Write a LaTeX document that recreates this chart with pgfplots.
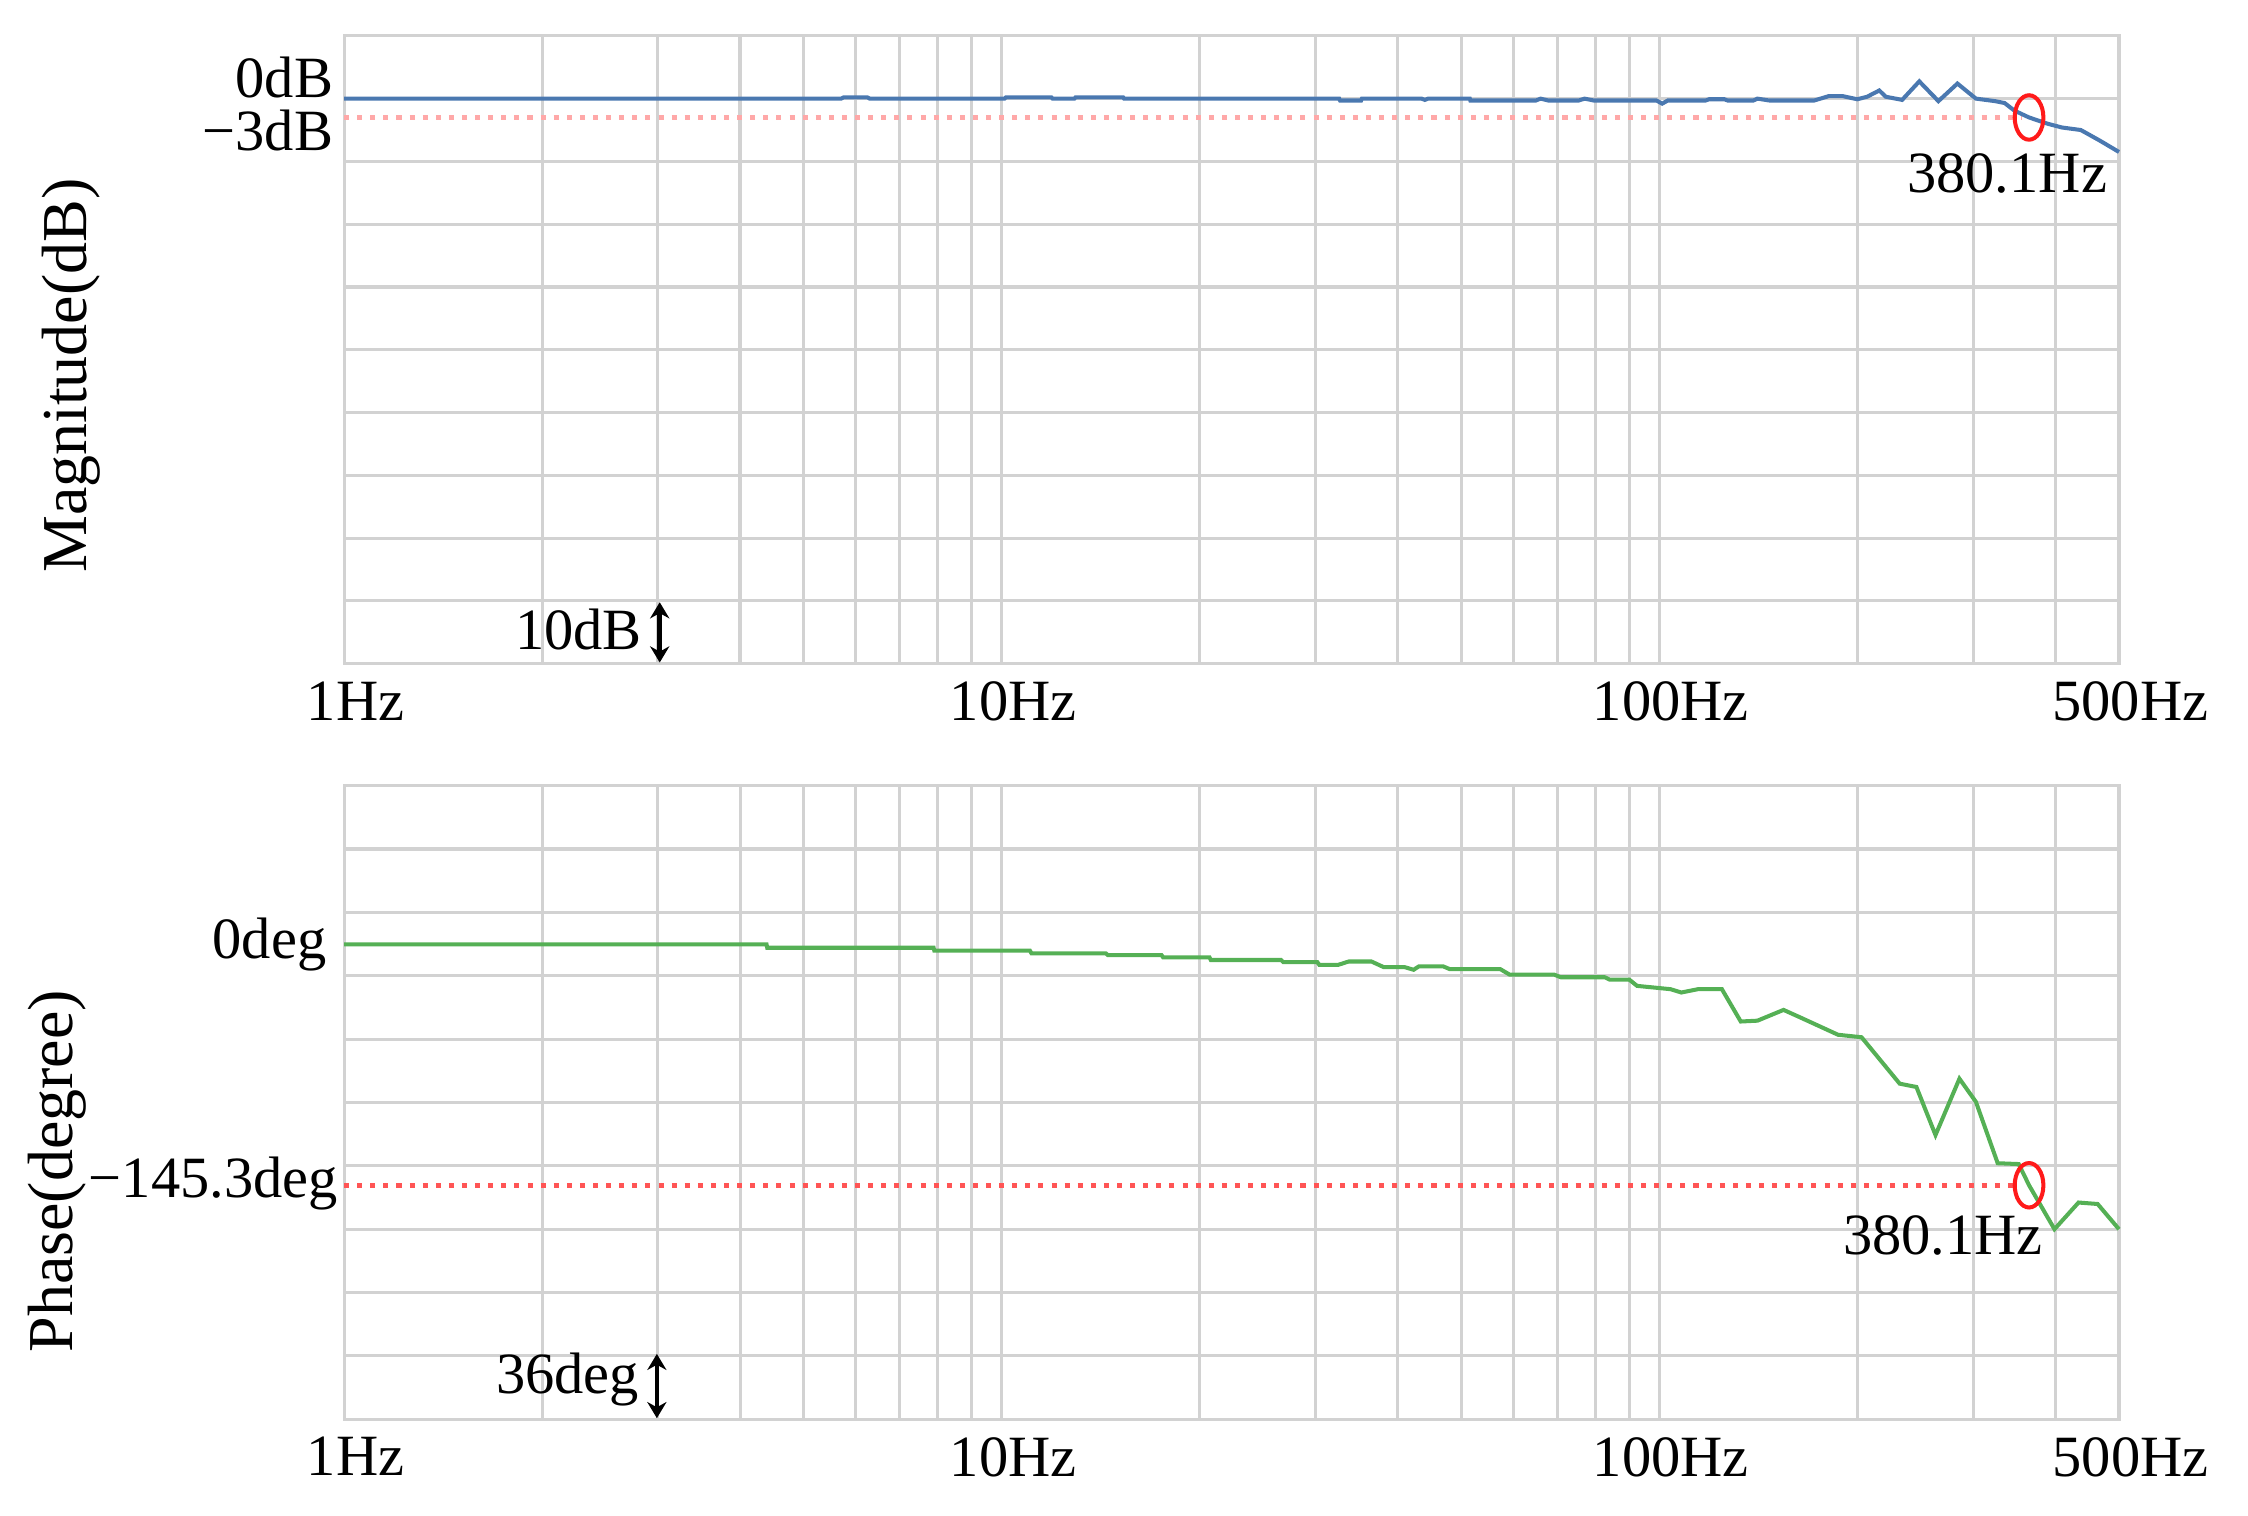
\documentclass[border=0pt]{standalone}
\usepackage{fontspec}
\setmainfont{Liberation Serif}
\usepackage{pgfplots}
\pgfplotsset{compat=1.18}
\usetikzlibrary{arrows.meta}
\definecolor{magc}{HTML}{4A78B0}
\definecolor{phc}{HTML}{55B055}
\definecolor{gridc}{HTML}{D2D2D2}
\definecolor{mkred}{HTML}{FF1A1A}
\definecolor{dotpink}{HTML}{FFA8A8}
\definecolor{dotred}{HTML}{FF5555}

\newcommand{\tlf}{\fontsize{11.6}{13}\selectfont}
\newcommand{\alf}{\fontsize{12.7}{14}\selectfont}

\begin{document}
\begin{tikzpicture}
\useasboundingbox (0,0) rectangle (15.68,10.57);

% magnitude
\begin{axis}[xmode=log, scale only axis, width=12.38cm, height=4.38cm,
  anchor=south west, at={(2.40cm,5.94cm)},
  xmin=1, xmax=500, ymin=-90, ymax=10,
  xtick={1,10,100,500}, xticklabels={1Hz,10Hz,100Hz,500Hz},
  minor xtick={2,3,4,5,6,7,8,9,20,30,40,50,60,70,80,90,200,300,400},
  ytick={-80,-70,-60,-50,-40,-30,-20,-10,0}, yticklabels={},
  xticklabel style={font=\tlf, xshift=0.08cm},
  grid=both,
  major grid style={gridc, line width=0.6pt},
  minor grid style={gridc, line width=0.6pt},
  axis line style={gridc, line width=0.6pt},
  major tick length=0pt, minor tick length=0pt,
  clip=false]
\addplot[dotpink, line width=0.9pt, dash pattern=on 1pt off 1.6pt] coordinates {(1,-3)(355,-3)};
\addplot[magc, line width=0.8pt] coordinates {
(1,0)(5.7,0)(5.75,0.2)(6.25,0.2)(6.3,0)(10.1,0)(10.15,0.2)(11.9,0.2)(11.95,0)
(12.9,0)(12.95,0.2)(15.3,0.2)(15.35,0)(32.6,0)(32.7,-0.3)(35.2,-0.3)(35.3,0)
(43.5,0)(44,-0.2)(44.5,0)(51.5,0)(51.6,-0.3)(64.9,-0.3)(66,0)(67.8,-0.3)
(75.4,-0.3)(77,0)(79.5,-0.3)(86,-0.3)(99,-0.3)(101,-0.8)(103,-0.3)(117.6,-0.3)
(119,-0.1)(125.6,-0.1)(127,-0.3)(139,-0.3)(141,0)(147,-0.3)(172,-0.3)(181,0.4)
(190,0.4)(200,-0.1)(207,0.3)(216,1.3)(221,0.3)(234,-0.2)(248.5,2.75)(265.7,-0.4)
(284,2.4)(303,0)(324,-0.4)(335,-0.7)(346.6,-1.9)(365,-3)(389.6,-4.0)(409.6,-4.6)
(437.5,-5.0)(467.8,-6.7)(500,-8.5)};
\addplot[mkred, only marks, mark=o, mark size=0.155cm, mark options={xscale=0.645, line width=0.8pt}] coordinates {(365,-3)};
\addplot[black, line width=0.9pt, {Stealth[length=3.2pt,width=3.8pt]}-{Stealth[length=3.2pt,width=3.8pt]}] coordinates {(3.02,-80.2)(3.02,-89.8)};
\node[font=\tlf, anchor=east, xshift=-0.035cm, inner sep=1pt] at (axis cs:1,3.4) {0dB};
\node[font=\tlf, anchor=east, xshift=-0.035cm, inner sep=1pt] at (axis cs:1,-5.0) {−3dB};
\node[font=\tlf, anchor=east] at (axis cs:3.02,-84.5) {10dB};
\node[font=\tlf] at (axis cs:338,-11.9) {380.1Hz};
\end{axis}

% phase
\begin{axis}[xmode=log, scale only axis, width=12.38cm, height=4.42cm,
  anchor=south west, at={(2.40cm,0.67cm)},
  xmin=1, xmax=500, ymin=-286.5, ymax=95.8,
  xtick={1,10,100,500}, xticklabels={1Hz,10Hz,100Hz,500Hz},
  minor xtick={2,3,4,5,6,7,8,9,20,30,40,50,60,70,80,90,200,300,400},
  ytick={57.57,19.34,-18.89,-57.12,-95.35,-133.58,-171.81,-210.04,-248.27}, yticklabels={},
  xticklabel style={font=\tlf, xshift=0.08cm},
  grid=both,
  major grid style={gridc, line width=0.6pt},
  minor grid style={gridc, line width=0.6pt},
  axis line style={gridc, line width=0.6pt},
  major tick length=0pt, minor tick length=0pt,
  clip=false]
\addplot[dotred, line width=0.9pt, dash pattern=on 1pt off 1.6pt] coordinates {(1,-145.3)(347,-145.3)};
\addplot[phc, line width=0.8pt] coordinates {
(1,0)(4.39,0)(4.4,-2)(7.88,-2)(7.9,-3.8)(11.04,-3.8)(11.1,-5.4)(14.4,-5.4)
(14.5,-6.4)(17.5,-6.4)(17.6,-7.8)(20.7,-7.8)(20.8,-9.4)(26.6,-9.4)(26.8,-10.7)
(30.2,-10.7)(30.4,-12.3)(32.5,-12.3)(33.7,-10.3)(36.5,-10.3)(38.1,-13.7)(41,-13.7)
(42.3,-15.3)(43.1,-13.2)(46.9,-13.2)(48,-14.9)(57.3,-14.9)(59.2,-18.2)(69.2,-18.2)
(70.8,-19.8)(82.6,-19.8)(84,-21.2)(90,-21.2)(92.5,-25)(104,-27)(108,-29)
(114.5,-27)(124.5,-27)(133,-46.5)(141,-46)(154.5,-39.5)(163.7,-44)(187,-54.5)
(203,-56)(232,-84)(246,-86)(263,-115)(286,-81)(303,-95)(327,-132)(352,-132.5)
(365,-145.3)(399,-171.8)(434,-155.7)(464,-156.6)(500,-171.8)};
\addplot[mkred, only marks, mark=o, mark size=0.155cm, mark options={xscale=0.645, line width=0.8pt}] coordinates {(365,-145.3)};
\addplot[black, line width=0.9pt, {Stealth[length=3.2pt,width=3.8pt]}-{Stealth[length=3.2pt,width=3.8pt]}] coordinates {(2.99,-247)(2.99,-285.8)};
\node[font=\tlf, anchor=east] at (axis cs:1,0) {0deg};
\node[font=\tlf, anchor=east, xshift=0.08cm] at (axis cs:1,-144) {−145.3deg};
\node[font=\tlf, anchor=east] at (axis cs:2.99,-262.3) {36deg};
\node[font=\tlf] at (axis cs:270,-175.7) {380.1Hz};
\end{axis}

\node[font=\alf, rotate=90] at (0.50,7.95) {Magnitude(dB)};
\node[font=\alf, rotate=90] at (0.40,2.40) {Phase(degree)};
\end{tikzpicture}
\end{document}
